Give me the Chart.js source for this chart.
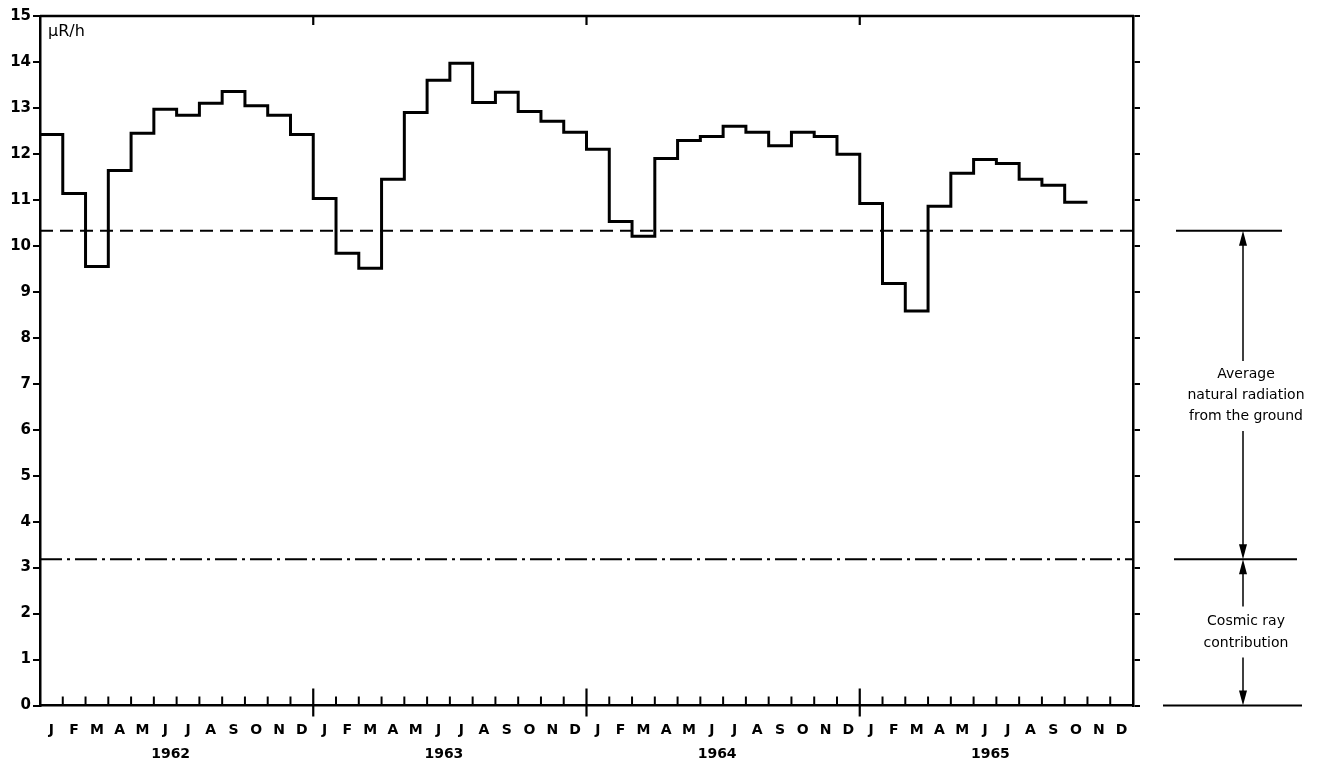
<!DOCTYPE html>
<html>
<head>
<meta charset="utf-8">
<script src="https://cdn.jsdelivr.net/npm/chart.js@4/dist/chart.umd.min.js"></script>
<style>
  body { margin: 0; background: #fff; }
  #wrap { width: 1328px; height: 767px; }
</style>
</head>
<body>
<div id="wrap"><canvas id="myChart"></canvas></div>
<script>
// Monthly mean exposure rate, microR/h
const monthLetters = ['J', 'F', 'M', 'A', 'M', 'J', 'J', 'A', 'S', 'O', 'N', 'D'];
const years = ['1962', '1963', '1964', '1965'];
const rate1962 = [12.42, 11.14, 9.55, 11.64, 12.45, 12.97, 12.84, 13.10, 13.36, 13.05, 12.84, 12.42];
const rate1963 = [11.03, 9.84, 9.51, 11.45, 12.90, 13.60, 13.97, 13.12, 13.34, 12.92, 12.71, 12.47];
const rate1964 = [12.10, 10.53, 10.21, 11.90, 12.29, 12.38, 12.60, 12.47, 12.18, 12.47, 12.38, 11.99];
const rate1965 = [10.92, 9.18, 8.58, 10.86, 11.58, 11.88, 11.79, 11.45, 11.32, 10.95, null, null];
const groundLevel = 10.33;   // average natural radiation from the ground
const cosmicLevel = 3.18;    // cosmic ray contribution
const yMin = 0, yMax = 15;
const unitLabel = 'μR/h';
const groundText = ['Average', 'natural radiation', 'from the ground'];
const cosmicText = ['Cosmic ray', 'contribution'];

const allRates = [...rate1962, ...rate1963, ...rate1964, ...rate1965];
const nMonths = allRates.length;

// each month is a flat step from its start to its end
const stepPoints = [];
allRates.forEach((v, i) => {
    if (v === null) return;
    stepPoints.push({ x: i, y: v }, { x: i + 1, y: v });
});

const FONT = "'DejaVu Sans', sans-serif";

function arrowHead(ctx, x, tipY, dir) {
    // dir = -1 points up, 1 points down
    ctx.beginPath();
    ctx.moveTo(x, tipY);
    ctx.lineTo(x - 4, tipY - dir * 15);
    ctx.lineTo(x + 4, tipY - dir * 15);
    ctx.closePath();
    ctx.fill();
}

const decorPlugin = {
    id: 'decor',
    afterDraw(chart) {
        const ctx = chart.ctx;
        const xs = chart.scales.x;
        const ys = chart.scales.y;
        const area = chart.chartArea;
        const y0 = ys.getPixelForValue(0);
        ctx.save();
        ctx.strokeStyle = '#000';
        ctx.fillStyle = '#000';

        // top frame line
        ctx.lineWidth = 2.5;
        ctx.beginPath();
        ctx.moveTo(area.left, area.top);
        ctx.lineTo(area.right + 1, area.top);
        ctx.stroke();

        // month ticks (inside) and year ticks (crossing)
        for (let i = 1; i < nMonths; i++) {
            const px = xs.getPixelForValue(i);
            ctx.beginPath();
            if (i % 12 === 0) {
                ctx.lineWidth = 2.2;
                ctx.moveTo(px, y0 - 17);
                ctx.lineTo(px, y0 + 11);
                ctx.moveTo(px, area.top);
                ctx.lineTo(px, area.top + 9);
            } else {
                ctx.lineWidth = 2;
                ctx.moveTo(px, y0);
                ctx.lineTo(px, y0 - 9);
            }
            ctx.stroke();
        }

        // year labels
        ctx.font = 'bold 14px ' + FONT;
        ctx.textAlign = 'center';
        ctx.textBaseline = 'middle';
        years.forEach((yr, k) => {
            ctx.fillText(yr, xs.getPixelForValue(k * 12 + 6) - 6, 754);
        });

        // unit label
        ctx.font = '16px ' + FONT;
        ctx.textAlign = 'left';
        ctx.fillText(unitLabel, area.left + 8, area.top + 16);

        // right-hand annotation
        const yG = ys.getPixelForValue(groundLevel);
        const yC = ys.getPixelForValue(cosmicLevel);
        const r = area.right;
        const ax = r + 110;
        ctx.lineWidth = 2;
        ctx.beginPath();
        ctx.moveTo(r + 43, yG); ctx.lineTo(r + 149, yG);
        ctx.moveTo(r + 41, yC); ctx.lineTo(r + 164, yC);
        ctx.moveTo(r + 30, y0); ctx.lineTo(r + 169, y0);
        ctx.stroke();

        const gMid = (yG + yC) / 2;
        const cMid = (yC + y0) / 2;
        ctx.lineWidth = 1.5;
        ctx.beginPath();
        ctx.moveTo(ax, yG + 10); ctx.lineTo(ax, gMid - 34);
        ctx.moveTo(ax, gMid + 36); ctx.lineTo(ax, yC - 10);
        ctx.moveTo(ax, yC + 10); ctx.lineTo(ax, cMid - 26);
        ctx.moveTo(ax, cMid + 25); ctx.lineTo(ax, y0 - 10);
        ctx.stroke();
        arrowHead(ctx, ax, yG, -1);
        arrowHead(ctx, ax, yC, 1);
        arrowHead(ctx, ax, yC, -1);
        arrowHead(ctx, ax, y0, 1);

        ctx.font = '14px ' + FONT;
        ctx.textAlign = 'center';
        groundText.forEach((t, i) => ctx.fillText(t, ax + 3, gMid - 21 + i * 21));
        cosmicText.forEach((t, i) => ctx.fillText(t, ax + 3, cMid - 11 + i * 22));

        ctx.restore();
    }
};

function crearGrafico() {
    const ctx = document.getElementById('myChart').getContext('2d');
    return new Chart(ctx, {
        type: 'line',
        data: {
            datasets: [{
                label: 'Monthly mean',
                data: stepPoints,
                borderColor: '#000',
                borderWidth: 3,
                pointRadius: 0,
                tension: 0,
                fill: false
            }, {
                label: 'Ground',
                data: [{ x: 0, y: groundLevel }, { x: nMonths, y: groundLevel }],
                borderColor: '#000',
                borderWidth: 2,
                borderDash: [13, 7],
                pointRadius: 0,
                fill: false
            }, {
                label: 'Cosmic',
                data: [{ x: 0, y: cosmicLevel }, { x: nMonths, y: cosmicLevel }],
                borderColor: '#000',
                borderWidth: 2,
                borderDash: [22, 5, 3, 5],
                pointRadius: 0,
                fill: false
            }]
        },
        options: {
            responsive: true,
            maintainAspectRatio: false,
            animation: false,
            layout: { padding: { top: 16, left: 0, right: 0, bottom: 0 } },
            plugins: {
                legend: { display: false },
                tooltip: { enabled: false }
            },
            scales: {
                x: {
                    type: 'linear',
                    min: 0,
                    max: nMonths,
                    afterBuildTicks: (scale) => {
                        scale.ticks = [];
                        for (let i = 0; i < nMonths; i++) scale.ticks.push({ value: i + 0.5 });
                    },
                    afterFit: (scale) => { scale.height = 61.5; },
                    grid: { display: false },
                    border: { display: true, color: '#000', width: 2.5 },
                    ticks: {
                        autoSkip: false,
                        maxRotation: 0,
                        padding: 8,
                        color: '#000',
                        font: { family: FONT, size: 14, weight: 'bold' },
                        callback: (v) => monthLetters[Math.floor(v) % 12]
                    }
                },
                y: {
                    position: 'left',
                    min: yMin,
                    max: yMax,
                    afterFit: (scale) => { scale.width = 40; },
                    grid: { drawOnChartArea: false, drawTicks: true, tickLength: 7, color: '#000', lineWidth: 2 },
                    border: { display: true, color: '#000', width: 2.5 },
                    ticks: {
                        stepSize: 1,
                        padding: 2,
                        color: '#000',
                        font: { family: FONT, size: 15, weight: 'bold' }
                    }
                },
                yRight: {
                    position: 'right',
                    min: yMin,
                    max: yMax,
                    afterFit: (scale) => { scale.width = 195; },
                    grid: { drawOnChartArea: false, drawTicks: true, tickLength: 7, color: '#000', lineWidth: 2 },
                    border: { display: true, color: '#000', width: 2.5 },
                    ticks: { stepSize: 1, display: false }
                }
            }
        },
        plugins: [decorPlugin]
    });
}

crearGrafico();
</script>
</body>
</html>
